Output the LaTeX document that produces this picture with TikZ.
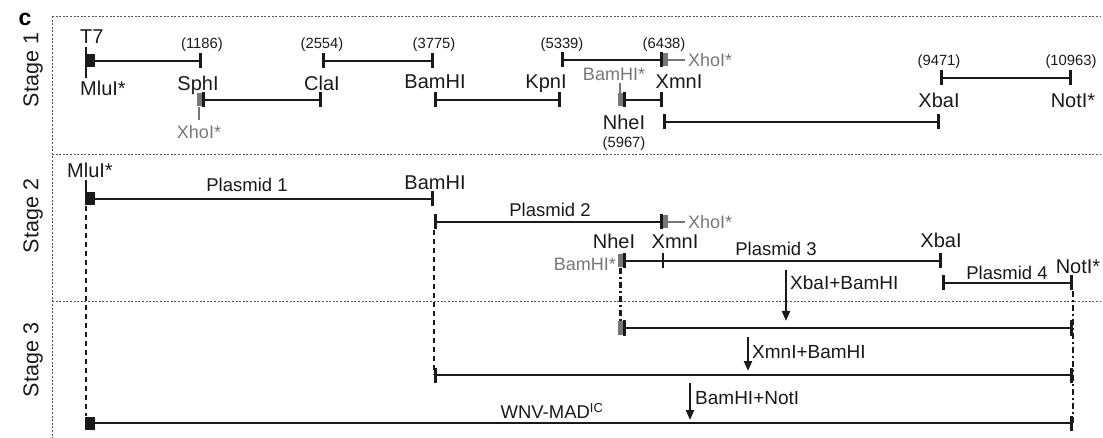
\documentclass[tikz,border=0pt]{standalone}
\usepackage{fontspec}
\setmainfont{Liberation Sans}
\setsansfont{Liberation Sans}
\usetikzlibrary{arrows.meta, positioning}
\definecolor{cink}{HTML}{1A1A1A}
\definecolor{cgrey}{HTML}{777777}
\definecolor{cframe}{HTML}{555555}
\tikzset{
  every picture/.style={font=\sffamily},
  lbl/.style={inner sep=0pt, text depth=0pt, text=cink},
  site/.style={lbl, text height=14.3pt, font=\sffamily\fontsize{20}{24}\selectfont},
  sitepos/.style={lbl, text height=10.6pt, font=\sffamily\fontsize{14.8}{17}\selectfont},
  star/.style={lbl, text height=13pt, text=cgrey, font=\sffamily\fontsize{18}{22}\selectfont},
  plasmid/.style={lbl, text height=13.3pt, font=\sffamily\fontsize{18.5}{22}\selectfont},
  digest/.style={lbl, anchor=west, text height=13.7pt, font=\sffamily\fontsize{19}{23}\selectfont},
  stagelbl/.style={rotate=90, inner sep=0pt, text=cink, font=\sffamily\fontsize{21.5}{25}\selectfont},
  frag/.style={draw=cink, line width=2.7pt, arrows={Bar[width=15pt]-Bar[width=15pt]}},
  fragr/.style={draw=cink, line width=2.7pt, arrows={-Bar[width=15pt]}},
  tick/.style={draw=cink, line width=2.7pt},
  t7box/.style={fill=cink, draw=none, minimum width=10pt, minimum height=13pt, inner sep=0pt},
  cutbox/.style={fill=cgrey, draw=none, minimum width=5pt, minimum height=13pt, inner sep=0pt},
  cutline/.style={draw=cgrey, line width=1.8pt},
  frame/.style={draw=cframe, line width=0.9pt, dash pattern=on 2pt off 1.6pt},
  link/.style={draw=cink, line width=2.4pt, dash pattern=on 5pt off 4pt},
  linkdot/.style={draw=cink, line width=2.4pt, dash pattern=on 6pt off 3pt on 2pt off 3pt},
  digestarrow/.style={draw=cink, line width=2.2pt, arrows={-Triangle[length=10pt, width=8pt]}},
}

\begin{document}
\begin{tikzpicture}[x=1pt, y=-1pt, node distance=0pt]
  \useasboundingbox (0,0) rectangle (1103,438);

  % frame and stages
  \node[inner sep=0pt, text depth=0pt, font=\sffamily\bfseries\fontsize{23}{26}\selectfont] (panel) at (25,19) {c};
  \draw[frame] (52,16) -- (52,438);
  \draw[frame] (52,16) -- (1100,16);
  \draw[frame] (52,154) -- (1100,154);
  \draw[frame] (52,301) -- (1100,301);
  \node[stagelbl] (st1) at (33,70) {Stage 1};
  \node[stagelbl] (st2) at (33,216) {Stage 2};
  \node[stagelbl] (st3) at (33,360) {Stage 3};

  % stage 1: the eight fragments
  \node[t7box] (mlu1) at (90,61) {};
  \draw[tick] ([xshift=-4pt,yshift=14pt]mlu1.center) -- ([xshift=-4pt,yshift=-17pt]mlu1.center);
  \coordinate (a1) at (202,61);
  \draw[fragr] (mlu1.east) -- (a1);
  \node[site, anchor=west] (lt7) at (80,36) {T7};
  \node[site, anchor=west] (lmlu1) at (80,88) {MluI*};
  \node[sitepos] (n1186) at (202,43) {(1186)};
  \node[site] (lsph) at (198,83) {SphI};

  \coordinate (b1) at (202,100);
  \coordinate (b2) at (322,100);
  \draw[frag] (b1) -- (b2);
  \node[cutbox, left=0pt of b1] (xho1) {};
  \node[star] (lxho1) at (199,132) {XhoI*};
  \draw[cutline, shorten >=5pt] (xho1.south) -- (xho1.south |- lxho1.north);

  \coordinate (c1) at (322,61);
  \coordinate (c2) at (434,61);
  \draw[frag] (c1) -- (c2);
  \node[site] (lcla) at (322,83) {ClaI};
  \node[sitepos] (n2554) at (322,43) {(2554)};
  \node[sitepos] (n3775) at (434,43) {(3775)};
  \node[site] (lbam1) at (435,81) {BamHI};

  \coordinate (d1) at (434,100);
  \coordinate (d2) at (561,100);
  \draw[frag] (d1) -- (d2);
  \node[site] (lkpn) at (546,81) {KpnI};
  \node[sitepos] (n5339) at (562,43) {(5339)};

  \coordinate (e1) at (561,60);
  \coordinate (e2) at (663,60);
  \draw[frag] (e1) -- (e2);
  \node[cutbox, right=0pt of e2] (xho2) {};
  \node[star, anchor=west] (lxho2) at (688,60) {XhoI*};
  \draw[cutline, shorten >=3pt] (xho2.east) -- (lxho2.west);
  \node[sitepos] (n6438) at (664,43) {(6438)};
  \node[site] (lxmn1) at (679,81) {XmnI};

  \coordinate (f1) at (623,100);
  \coordinate (f2) at (663,100);
  \draw[frag] (f1) -- (f2);
  \node[cutbox, left=0pt of f1] (bams1) {};
  \node[star] (lbams1) at (614,74) {BamHI*};
  \draw[cutline, shorten >=2pt] (bams1.north) -- (bams1.north |- lbams1.south);
  \node[site] (lnhe1) at (624,122) {NheI};
  \node[sitepos] (n5967) at (624,142) {(5967)};

  \coordinate (g1) at (663,122);
  \coordinate (g2) at (940,122);
  \draw[frag] (g1) -- (g2);

  \coordinate (h1) at (940,78);
  \coordinate (h2) at (1072,78);
  \draw[frag] (h1) -- (h2);
  \node[sitepos] (n9471) at (939,60) {(9471)};
  \node[sitepos] (n10963) at (1071,60) {(10963)};
  \node[site] (lxba1) at (939,100) {XbaI};
  \node[site] (lnot1) at (1073,100) {NotI*};

  % stage 2: four plasmids
  \node[t7box] (mlu2) at (90,199) {};
  \draw[tick] ([xshift=-4pt,yshift=19pt]mlu2.center) -- ([xshift=-4pt,yshift=-6pt]mlu2.center);
  \node[site] (lmlu2) at (90,170) {MluI*};
  \coordinate (p1b) at (434,199);
  \draw[fragr] (mlu2.east) -- (p1b);
  \node[plasmid] (lp1) at (247,185) {Plasmid 1};
  \node[site] (lbam2) at (435,182) {BamHI};

  \coordinate (p2a) at (434,222);
  \coordinate (p2b) at (663,222);
  \draw[frag] (p2a) -- (p2b);
  \node[cutbox, right=0pt of p2b] (xho3) {};
  \node[star, anchor=west] (lxho3) at (688,222) {XhoI*};
  \draw[cutline, shorten >=3pt] (xho3.east) -- (lxho3.west);
  \node[plasmid] (lp2) at (550,210) {Plasmid 2};

  \coordinate (p3a) at (623,261);
  \coordinate (p3m) at (663,261);
  \coordinate (p3b) at (942,261);
  \draw[frag] (p3a) -- (p3b);
  \draw[tick] ([yshift=7.5pt]p3m) -- ([yshift=-7.5pt]p3m);
  \node[cutbox, left=0pt of p3a] (bams2) {};
  \node[star, anchor=east] (lbams2) at (616,264) {BamHI*};
  \node[site] (lnhe2) at (614,241) {NheI};
  \node[site] (lxmn2) at (675,241) {XmnI};
  \node[plasmid] (lp3) at (776,249) {Plasmid 3};
  \node[site] (lxba2) at (941,240) {XbaI};

  \coordinate (p4a) at (942,283);
  \coordinate (p4b) at (1073,283);
  \draw[frag] (p4a) -- (p4b);
  \node[plasmid] (lp4) at (1007,273) {Plasmid 4};
  \node[site] (lnot2) at (1078,266) {NotI*};

  \coordinate (dg1a) at (786,270);
  \coordinate (dg1b) at (786,321);
  \draw[digestarrow] (dg1a) -- (dg1b);
  \node[digest] (ldg1) at (790,283) {XbaI+BamHI};

  % stage 3: ligations
  \coordinate (q1a) at (623,328);
  \coordinate (q1b) at (1073,328);
  \draw[frag] (q1a) -- (q1b);
  \node[cutbox, left=0pt of q1a] (bams3) {};

  \coordinate (dg2a) at (748,337);
  \coordinate (dg2b) at (748,371);
  \draw[digestarrow] (dg2a) -- (dg2b);
  \node[digest] (ldg2) at (752,352) {XmnI+BamHI};

  \coordinate (q2a) at (434,375);
  \coordinate (q2b) at (1073,375);
  \draw[frag] (q2a) -- (q2b);

  \coordinate (dg3a) at (690,383);
  \coordinate (dg3b) at (690,420);
  \draw[digestarrow] (dg3a) -- (dg3b);
  \node[digest] (ldg3) at (695,398) {BamHI+NotI};

  \node[t7box] (mlu3) at (90,423) {};
  \coordinate (q3b) at (1073,423);
  \draw[fragr] (mlu3.east) -- (q3b);
  \node[plasmid] (lwnv) at (552,412) {WNV-MAD\textsuperscript{IC}};

  % guide lines between stages
  \draw[link] ([xshift=-4pt]mlu2.south) -- ([xshift=-4pt]mlu3.north);
  \draw[link, shorten <=8pt] (p2a) -- (q2a);
  \draw[linkdot] (bams2.south) -- (bams3.north);
  \draw[linkdot, shorten <=8pt] (p4b) -- (q3b);
\end{tikzpicture}
\end{document}
